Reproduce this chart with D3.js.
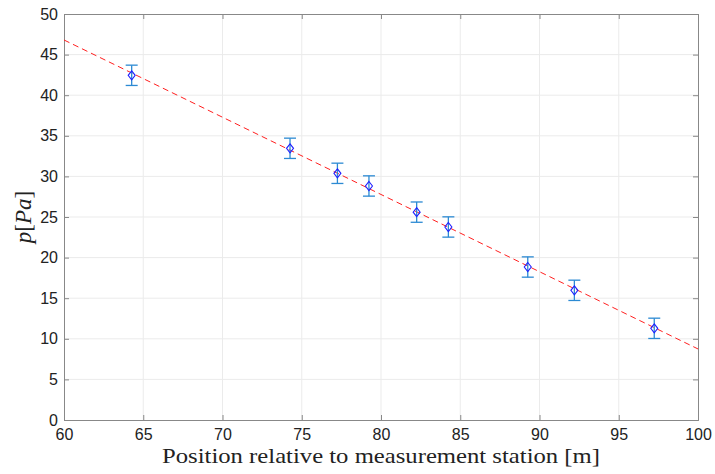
<!DOCTYPE html>
<html>
<head>
<meta charset="utf-8">
<script src="https://cdn.jsdelivr.net/npm/d3@7"></script>
<style>
  body { margin: 0; background: #fff; }
  svg { display: block; }
</style>
</head>
<body>
<div id="chart-area"></div>
<script>
// measured positions [m] and pressures [Pa]
const positions = [64.27, 74.26, 77.25, 79.24, 82.25, 84.25, 89.26, 92.2, 97.24];
const pressures = [42.45, 33.46, 30.38, 28.82, 25.6, 23.77, 18.84, 15.97, 11.29];
const errors = [1.25, 1.25, 1.25, 1.25, 1.25, 1.25, 1.25, 1.25, 1.25];
// linear fit end points
const fitX = [60, 100];
const fitY = [46.8, 8.75];
const xTicks = [60, 65, 70, 75, 80, 85, 90, 95, 100];
const yTicks = [0, 5, 10, 15, 20, 25, 30, 35, 40, 45, 50];

const margin = { top: 14, right: 17, bottom: 54, left: 64 };
const width = 715 - margin.left - margin.right;
const height = 474 - margin.top - margin.bottom;

const svg = d3.select("#chart-area")
  .append("svg")
    .attr("width", 715)
    .attr("height", 474);

const g = svg.append("g")
  .attr("transform", `translate(${margin.left}, ${margin.top})`);

const x = d3.scaleLinear().domain([60, 100]).range([0, width]);
const y = d3.scaleLinear().domain([0, 50]).range([height, 0]);

// grid
g.append("g")
  .selectAll("line")
  .data(xTicks.slice(1, -1))
  .join("line")
    .attr("x1", d => x(d)).attr("x2", d => x(d))
    .attr("y1", 0).attr("y2", height)
    .attr("stroke", "#ebebeb");

g.append("g")
  .selectAll("line")
  .data(yTicks.slice(1, -1))
  .join("line")
    .attr("y1", d => y(d)).attr("y2", d => y(d))
    .attr("x1", 0).attr("x2", width)
    .attr("stroke", "#ebebeb");

// axes (ticks pointing inward, box on)
const tickFont = "Helvetica, 'Liberation Sans', Arial, sans-serif";

const xAxis = g.append("g")
  .attr("transform", `translate(0, ${height})`)
  .call(d3.axisBottom(x).tickValues(xTicks).tickSize(-5).tickPadding(9));

const yAxis = g.append("g")
  .call(d3.axisLeft(y).tickValues(yTicks).tickSize(-5).tickPadding(6));

g.append("g")
  .call(d3.axisTop(x).tickValues(xTicks).tickSize(-5).tickFormat(""));

g.append("g")
  .attr("transform", `translate(${width}, 0)`)
  .call(d3.axisRight(y).tickValues(yTicks).tickSize(-5).tickFormat(""));

g.selectAll(".domain").attr("stroke", "#888");
g.selectAll(".tick line").attr("stroke", "#888");
g.selectAll(".tick text")
  .attr("fill", "#222")
  .attr("font-size", "16px")
  .attr("font-family", tickFont);

// fit line
const line = d3.line()
  .x(d => x(d[0]))
  .y(d => y(d[1]));

g.append("path")
  .datum(d3.zip(fitX, fitY))
  .attr("d", line)
  .attr("fill", "none")
  .attr("stroke", "#ff2020")
  .attr("stroke-width", 1)
  .attr("stroke-dasharray", "6,4");

// error bars
const data = positions.map((p, i) => ({ x: p, y: pressures[i], e: errors[i] }));
const errColor = "#2c8ad3";
const cap = 6;

const bars = g.append("g")
  .selectAll("g")
  .data(data)
  .join("g");

bars.append("line")
  .attr("x1", d => x(d.x)).attr("x2", d => x(d.x))
  .attr("y1", d => y(d.y - d.e)).attr("y2", d => y(d.y + d.e))
  .attr("stroke", errColor).attr("stroke-width", 1.3);

bars.append("line")
  .attr("x1", d => x(d.x) - cap).attr("x2", d => x(d.x) + cap)
  .attr("y1", d => y(d.y + d.e)).attr("y2", d => y(d.y + d.e))
  .attr("stroke", errColor).attr("stroke-width", 1.3);

bars.append("line")
  .attr("x1", d => x(d.x) - cap).attr("x2", d => x(d.x) + cap)
  .attr("y1", d => y(d.y - d.e)).attr("y2", d => y(d.y - d.e))
  .attr("stroke", errColor).attr("stroke-width", 1.3);

// diamond markers
bars.append("path")
  .attr("d", d => {
    const cx = x(d.x), cy = y(d.y);
    return `M${cx},${cy - 4.5}L${cx + 3.5},${cy}L${cx},${cy + 4.5}L${cx - 3.5},${cy}Z`;
  })
  .attr("fill", "none")
  .attr("stroke", "#1f1fff")
  .attr("stroke-width", 1.1);

// labels
svg.append("text")
  .attr("x", margin.left + width / 2)
  .attr("y", 463)
  .attr("text-anchor", "middle")
  .attr("font-family", "'Liberation Serif', 'DejaVu Serif', serif")
  .attr("font-size", "22px")
  .attr("fill", "#222")
  .attr("textLength", 438)
  .attr("lengthAdjust", "spacingAndGlyphs")
  .text("Position relative to measurement station [m]");

const yLabel = svg.append("text")
  .attr("transform", `translate(31, ${margin.top + height / 2}) rotate(-90)`)
  .attr("text-anchor", "middle")
  .attr("font-family", "'Liberation Serif', 'DejaVu Serif', serif")
  .attr("font-size", "23px")
  .attr("fill", "#222");

yLabel.append("tspan").attr("font-style", "italic").text("p");
yLabel.append("tspan").text("[");
yLabel.append("tspan").attr("font-style", "italic").text("Pa");
yLabel.append("tspan").text("]");
</script>
</body>
</html>
